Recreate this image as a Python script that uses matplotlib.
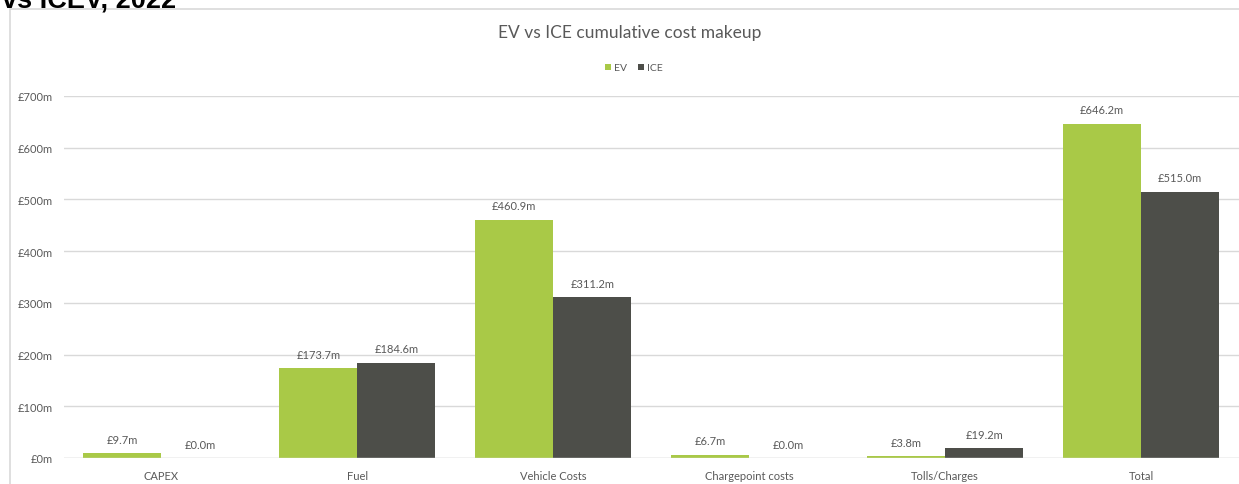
import numpy as np
import matplotlib.pyplot as plt
from matplotlib.patches import Rectangle

# ---------------------------
# Data
# ---------------------------
categories = ["CAPEX", "Fuel", "Vehicle Costs", "Chargepoint costs", "Tolls/Charges", "Total"]
ev_values = [9.7, 173.7, 460.9, 6.7, 3.8, 646.2]
ice_values = [0.0, 184.6, 311.2, 0.0, 19.2, 515.0]
y_ticks = [0, 100, 200, 300, 400, 500, 600, 700]

EV_COLOR = "#A9C947"
ICE_COLOR = "#4D4E49"
TEXT_COLOR = "#595959"
GRID_COLOR = "#D9D9D9"

plt.rcParams["font.family"] = ["Lato", "DejaVu Sans"]

W, H = 1239, 485
fig = plt.figure(figsize=(W / 100, H / 100), dpi=100)

# chart frame (light grey border, open at right/bottom)
fig.add_artist(Rectangle((10 / W, -0.1), 1.2, 1 - 10 / H + 0.1, transform=fig.transFigure,
                         fill=False, edgecolor=GRID_COLOR, linewidth=1.2))

# cropped heading above the chart (cut off at top, as in the source)
fig.text(2 / W, 1 - 7 / H, "vs ICEV, 2022", fontsize=19.5, fontweight="bold",
         family="Liberation Sans", color="black", ha="left", va="baseline")

ax = fig.add_axes([63.5 / W, 26 / H, (1239 - 63.5) / W, (459 - 97) / H])

x = np.arange(len(categories))
bw = 0.398
ev_bars = ax.bar(x - bw / 2, ev_values, bw, color=EV_COLOR, label="EV", zorder=3)
ice_bars = ax.bar(x + bw / 2, ice_values, bw, color=ICE_COLOR, label="ICE", zorder=3)

for bars, vals in ((ev_bars, ev_values), (ice_bars, ice_values)):
    for b, v in zip(bars, vals):
        ax.annotate(f"£{v:.1f}m", (b.get_x() + b.get_width() / 2, v),
                    xytext=(0, 6), textcoords="offset points",
                    ha="center", va="bottom", fontsize=8, color=TEXT_COLOR)

ax.set_xlim(-0.5, len(categories) - 0.5)
ax.set_ylim(0, 700)
ax.set_yticks(y_ticks)
ax.set_yticklabels([f"£{t}m" for t in y_ticks])
ax.set_xticks(x)
ax.set_xticklabels(categories)
ax.tick_params(axis="both", length=0, labelsize=8, labelcolor=TEXT_COLOR)
ax.tick_params(axis="x", pad=9)
ax.tick_params(axis="y", pad=8)
ax.grid(axis="y", color=GRID_COLOR, linewidth=1, zorder=0)
for s in ax.spines.values():
    s.set_visible(False)
ax.axhline(0, color=GRID_COLOR, linewidth=1, zorder=4)

fig.text(630 / W, 1 - 33 / H, "EV vs ICE cumulative cost makeup", fontsize=12.5,
         color=TEXT_COLOR, ha="center", va="center")

leg = fig.legend(handles=[ev_bars, ice_bars], loc="center", bbox_to_anchor=(634 / W, 1 - 69 / H),
                 ncol=2, frameon=False, fontsize=7.5, handlelength=0.6, handleheight=0.6,
                 handletextpad=0.3, columnspacing=1.0)
for t in leg.get_texts():
    t.set_color(TEXT_COLOR)

fig.savefig("out.png", dpi=100)
